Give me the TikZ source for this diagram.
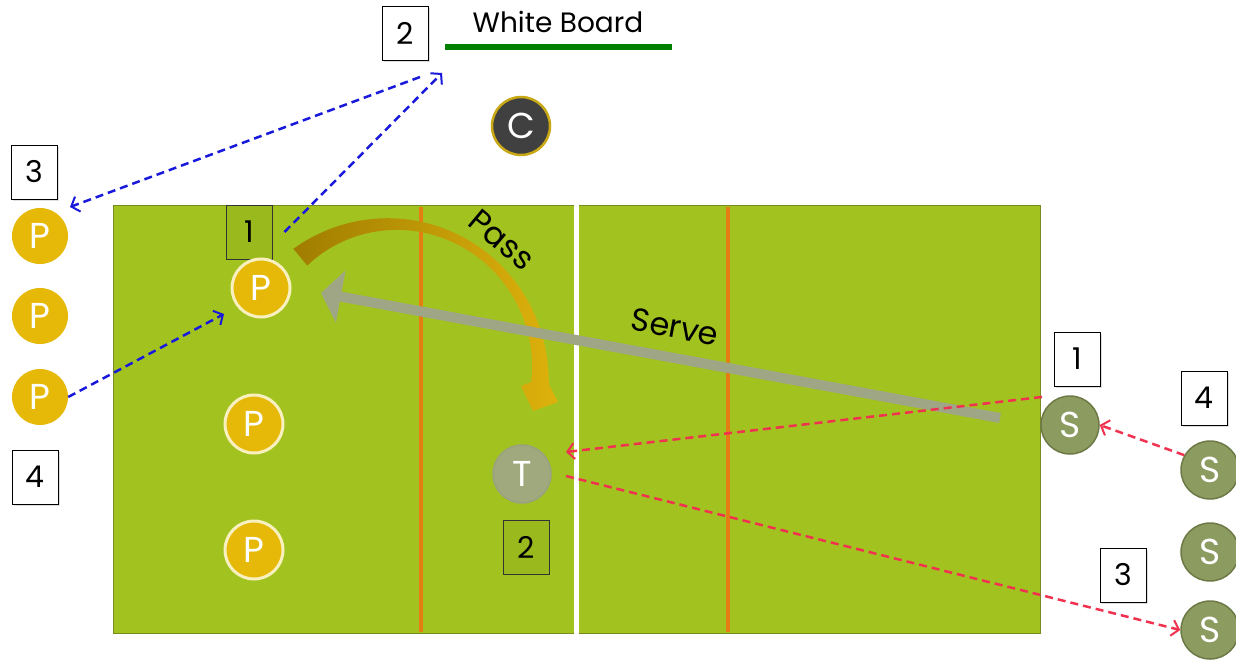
\documentclass[tikz,border=0pt]{standalone}
\usepackage{fontspec}
\setmainfont{Poppins}
\usetikzlibrary{arrows.meta,shadows}
\definecolor{court}{RGB}{162,195,31}
\definecolor{courtedge}{RGB}{120,140,30}
\definecolor{lineorange}{RGB}{228,125,18}
\definecolor{pyellow}{RGB}{230,185,8}
\definecolor{pcream}{RGB}{248,240,190}
\definecolor{solive}{RGB}{140,155,95}
\definecolor{soliveedge}{RGB}{110,122,70}
\definecolor{tolive}{RGB}{160,168,125}
\definecolor{cdark}{RGB}{64,64,64}
\definecolor{cgold}{RGB}{200,168,20}
\definecolor{wbgreen}{RGB}{0,128,0}
\definecolor{ablue}{RGB}{25,25,220}
\definecolor{ared}{RGB}{240,50,80}
\definecolor{serveg}{RGB}{158,166,134}
\definecolor{passdark}{RGB}{160,125,0}
\definecolor{passgold}{RGB}{222,178,12}
\tikzset{
  circlet/.style={circle,minimum size=56pt,inner sep=0pt,text=white,font=\fontsize{36}{40}\selectfont},
  pout/.style={circlet,fill=pyellow},
  pin/.style={circlet,fill=pyellow,draw=pcream,line width=3pt,minimum size=58pt},
  splayer/.style={circlet,fill=solive,draw=soliveedge,line width=1.5pt,minimum size=58pt},
  tplayer/.style={circlet,fill=tolive,draw=soliveedge!70,line width=1.5pt,minimum size=58pt},
  coach/.style={circlet,fill=cdark,draw=cgold,line width=2.5pt,minimum size=58pt},
  numbox/.style={draw=black,line width=1pt,fill=white,minimum width=46pt,minimum height=54pt,inner sep=0pt,font=\fontsize{30}{34}\selectfont,drop shadow={shadow xshift=2pt,shadow yshift=-2pt,opacity=0.25}},
  numboxc/.style={draw=black!80,line width=1pt,fill=black,fill opacity=0.05,text opacity=1,minimum width=46pt,minimum height=54pt,inner sep=0pt,font=\fontsize{30}{34}\selectfont},
  bluearrow/.style={ablue,line width=2.5pt,dash pattern=on 8pt off 5pt,-{Straight Barb[length=7pt,width=16pt,line width=2pt]}},
  redarrow/.style={ared,line width=2.5pt,dash pattern=on 8pt off 5pt,-{Straight Barb[length=7pt,width=16pt,line width=2pt]}},
  lbl/.style={font=\fontsize{32}{36}\selectfont,text=black}
}
\begin{document}
\begin{tikzpicture}[x=1pt,y=-1pt]
\useasboundingbox (0,0) rectangle (1236,659);
% court
\fill[court,draw=courtedge,line width=1pt] (113,205) rectangle (1040,633);
\draw[lineorange,line width=3.5pt] (421,207) -- (421,632);
\draw[lineorange,line width=3.5pt] (728,207) -- (728,632);
\fill[white] (574,200) rectangle (579,635);
% white board
\node[lbl,font=\fontsize{28}{32}\selectfont] (wbt) at (558,22) {White Board};
\draw[wbgreen,line width=6pt] (445,47) -- (672,47);
\coordinate (wbs) at (442,73);
\coordinate (wbs2) at (420,77);
% coach
\node[coach] (c) at (521,126) {C};
% number boxes
\node[numbox] (b2top) at (405,33) {2};
\node[numbox] (b3l) at (34,172) {3};
\node[numbox] (b4l) at (35,477) {4};
\node[numboxc] (b1c) at (249,232) {1};
\node[numboxc] (b2c) at (526,547) {2};
\node[numbox] (b1r) at (1077,359) {1};
\node[numbox] (b4r) at (1204,398) {4};
\node[numbox] (b3r) at (1123,575) {3};
% players outside left
\node[pout] (p1) at (40,236) {P};
\node[pout] (p2) at (40,316) {P};
\node[pout] (p3) at (40,397) {P};
% players in court
\node[pin] (pc1) at (261,288) {P};
\node[pin] (pc2) at (254,424) {P};
\node[pin] (pc3) at (254,550) {P};
% target
\node[tplayer] (t) at (522,474) {T};
% servers
\node[splayer] (s1) at (1070,425) {S};
\node[splayer] (s2) at (1210,470) {S};
\node[splayer] (s3) at (1210,552) {S};
\node[splayer] (s4) at (1210,630) {S};
% pass arrow
\shade[left color=passdark,right color=passgold,shading angle=90]
  plot[domain=-129.5:6.5,samples=60,smooth]
    ({390+(141+0.000537*(\x+130)*(\x+130)+(9+0.00231*(\x+55)*(\x+55))/2)*cos(\x)},
     {366+(141+0.000537*(\x+130)*(\x+130)+(9+0.00231*(\x+55)*(\x+55))/2)*sin(\x)})
  -- (558,402) -- (533,411) -- (521,386) --
  plot[domain=6.5:-129.5,samples=60,smooth]
    ({390+(141+0.000537*(\x+130)*(\x+130)-(9+0.00231*(\x+55)*(\x+55))/2)*cos(\x)},
     {366+(141+0.000537*(\x+130)*(\x+130)-(9+0.00231*(\x+55)*(\x+55))/2)*sin(\x)})
  -- cycle;
\node[lbl,rotate=-40] (pass) at (502,240) {Pass};
% serve arrow
\coordinate (servestart) at (1000,418);
\coordinate (serveend) at (321,293);
\draw[serveg,line width=10pt,-{Triangle[length=20pt,width=52pt]}] (servestart) -- (serveend);
\node[lbl,rotate=-10.5] (serve) at (675,327) {Serve};
% blue arrows
\coordinate (p1end) at (70,207);
\coordinate (pc1end) at (224,314);
\draw[bluearrow] ([xshift=12pt]b1c.east) -- (wbs);
\draw[bluearrow] (wbs2) -- (p1end);
\draw[bluearrow] (p3.east) -- (pc1end);
% red arrows
\coordinate (tend) at (566,452);
\coordinate (tstart) at (566,476);
\draw[redarrow] ([shift={(-7pt,7pt)}]s1.north west) -- (tend);
\draw[redarrow] (s2.150) -- (s1.east);
\draw[redarrow] (tstart) -- (s4.west);
\end{tikzpicture}
\end{document}
